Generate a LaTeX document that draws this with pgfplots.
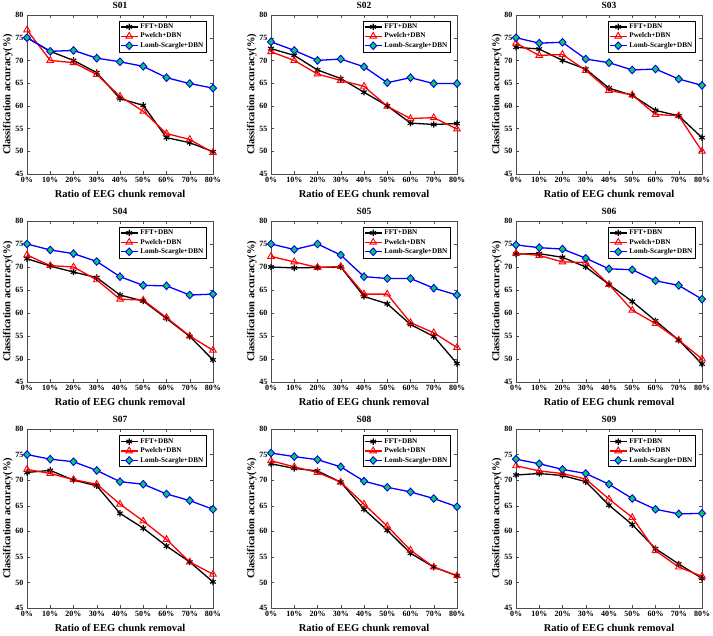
\documentclass[border=0pt]{standalone}
\usepackage{pgfplots}
\pgfplotsset{compat=1.18}
\usepackage{pgfplotstable}
\usepackage{fontspec}
\setmainfont{Liberation Serif}

\definecolor{mgreen}{RGB}{10,205,85}

\pgfplotstableread{
x fft pw ls
0 75.0 76.7 75.0
10 72.0 70.0 72.0
20 70.0 69.5 72.2
30 67.3 66.9 70.5
40 61.6 62.1 69.7
50 60.1 58.8 68.7
60 53.0 53.9 66.2
70 51.9 52.6 64.9
80 49.9 49.7 63.9
}\tSa
\pgfplotstableread{
x fft pw ls
0 72.6 71.9 74.1
10 71.1 70.0 72.2
20 67.9 67.0 70.0
30 66.0 65.6 70.3
40 63.0 64.3 68.6
50 60.0 59.9 65.1
60 56.2 57.2 66.2
70 55.9 57.4 64.9
80 56.1 54.9 64.9
}\tSb
\pgfplotstableread{
x fft pw ls
0 72.9 73.8 75.0
10 72.5 71.1 73.8
20 70.0 71.3 74.0
30 68.1 67.8 70.3
40 63.9 63.4 69.5
50 62.3 62.4 67.9
60 59.0 58.1 68.1
70 57.8 57.8 65.9
80 53.0 50.0 64.5
}\tSc
\pgfplotstableread{
x fft pw ls
0 71.8 72.6 75.0
10 70.2 70.3 73.7
20 68.9 70.0 72.9
30 67.7 67.2 71.2
40 63.9 63.0 67.9
50 62.6 62.8 66.0
60 58.8 59.0 65.9
70 54.9 55.0 63.9
80 49.8 51.9 64.1
}\tSd
\pgfplotstableread{
x fft pw ls
0 70.0 72.3 75.0
10 69.8 71.1 73.8
20 69.9 69.9 75.0
30 70.0 70.1 72.6
40 63.6 64.1 67.9
50 62.0 64.1 67.5
60 57.5 57.9 67.5
70 54.9 55.7 65.4
80 49.0 52.5 63.9
}\tSe
\pgfplotstableread{
x fft pw ls
0 72.8 73.0 74.8
10 72.9 72.5 74.2
20 72.1 71.1 73.9
30 70.0 71.0 71.9
40 66.2 66.2 69.6
50 62.5 60.6 69.4
60 58.3 57.7 67.0
70 54.1 54.1 66.0
80 48.9 50.0 63.0
}\tSf
\pgfplotstableread{
x fft pw ls
0 71.5 72.1 75.0
10 71.9 71.3 74.1
20 70.0 70.1 73.6
30 68.9 69.2 71.9
40 63.5 65.3 69.7
50 60.6 62.0 69.2
60 57.1 58.4 67.3
70 54.0 54.0 66.0
80 50.1 51.6 64.3
}\tSg
\pgfplotstableread{
x fft pw ls
0 73.2 73.8 75.3
10 72.3 72.6 74.6
20 71.8 71.5 74.0
30 69.6 69.6 72.6
40 64.3 65.3 69.8
50 60.2 61.0 68.6
60 55.7 56.3 67.7
70 53.0 53.0 66.4
80 51.3 51.3 64.8
}\tSh
\pgfplotstableread{
x fft pw ls
0 71.0 72.8 74.1
10 71.3 71.8 73.2
20 70.9 71.3 72.1
30 69.7 70.2 71.3
40 65.1 66.3 69.2
50 61.3 62.7 66.4
60 56.6 56.2 64.3
70 53.6 53.0 63.4
80 50.8 51.2 63.5
}\tSi

\pgfplotsset{
  eeg/.style={
    scale only axis, width=186pt,
    xmin=0, xmax=80, ymin=45, ymax=80,
    xtick={0,10,20,30,40,50,60,70,80}, ytick={45,50,55,60,65,70,75,80},
    xticklabels={0\%,10\%,20\%,30\%,40\%,50\%,60\%,70\%,80\%},
    tick align=inside, major tick length=3pt,
    /pgf/number format/assume math mode=true,
    axis line style={line width=0.5pt, black!70},
    tick style={black!70},
    ticklabel style={font=\bfseries\fontsize{8}{9}\selectfont},
    label style={font=\bfseries\fontsize{10.5}{12}\selectfont},
    ylabel shift=-4pt,
    title style={font=\bfseries\fontsize{9.5}{11}\selectfont, yshift=-3pt},
    xlabel={Ratio of EEG chunk removal},
    ylabel={Classification accuracy(\%)},
    legend style={at={(0.965,0.965)}, anchor=north east,
      font=\bfseries\fontsize{7.2}{7.5}\selectfont, draw=black, line width=0.4pt,
      inner sep=1pt, row sep=-1pt},
    legend cell align=left,
  },
  fft/.style={black, line width=1.3pt, mark=asterisk, mark size=3.2pt, mark options={line width=1.1pt}},
  pw/.style={red, line width=1.3pt, mark=triangle, mark size=3.8pt, mark options={line width=0.9pt}},
  ls/.style={blue, line width=1.3pt, mark=diamond*, mark size=3.8pt, mark options={fill=mgreen, draw=blue, line width=0.9pt, xscale=1.25}},
}

\newcommand{\subj}[4]{%
\begin{axis}[eeg, at={#1}, anchor=north west, height=#4, title={#3}]
\addplot[fft] table[x=x,y=fft]{#2};
\addplot[pw] table[x=x,y=pw]{#2};
\addplot[ls] table[x=x,y=ls]{#2};
\legend{FFT+DBN,Pwelch+DBN,Lomb-Scargle+DBN}
\end{axis}}

\begin{document}
\begin{tikzpicture}
\path[use as bounding box] (0,0) rectangle (713pt,636pt);
\subj{(27pt,621pt)}{\tSa}{S01}{159pt}
\subj{(271pt,621pt)}{\tSb}{S02}{159pt}
\subj{(516pt,621pt)}{\tSc}{S03}{159pt}
\subj{(27pt,415pt)}{\tSd}{S04}{161pt}
\subj{(271pt,415pt)}{\tSe}{S05}{161pt}
\subj{(516pt,415pt)}{\tSf}{S06}{161pt}
\subj{(27pt,207pt)}{\tSg}{S07}{179pt}
\subj{(271pt,207pt)}{\tSh}{S08}{179pt}
\subj{(516pt,207pt)}{\tSi}{S09}{179pt}
\end{tikzpicture}
\end{document}
